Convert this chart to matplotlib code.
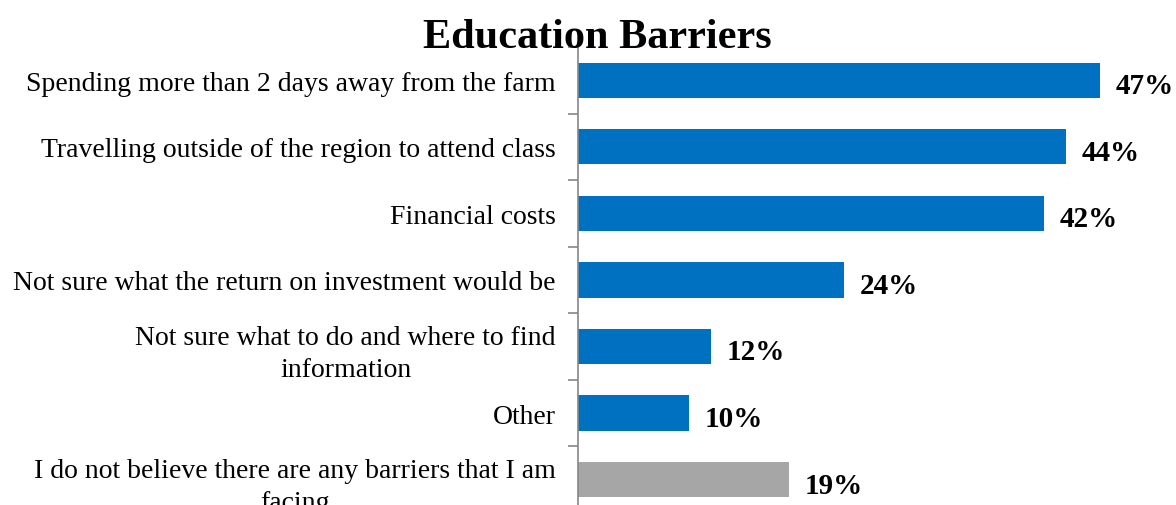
import matplotlib.pyplot as plt
import numpy as np
from matplotlib.ticker import FixedLocator

categories = [
    "Spending more than 2 days away from the farm",
    "Travelling outside of the region to attend class",
    "Financial costs",
    "Not sure what the return on investment would be",
    "Not sure what to do and where to find\ninformation",
    "Other",
    "I do not believe there are any barriers that I am\nfacing",
]
values = [47, 44, 42, 24, 12, 10, 19]
colors = ["#0070C0"] * 6 + ["#A6A6A6"]

plt.rcParams["font.family"] = ["Liberation Serif", "DejaVu Serif"]

fig = plt.figure(figsize=(11.76, 5.06), dpi=100)
ax = fig.add_axes([0.4915, -0.0158, 0.472, 0.921])

y = np.arange(len(categories))
ax.barh(y, values, height=0.53, color=colors)
ax.set_ylim(len(categories) - 0.5, -0.5)
ax.set_xlim(0, 50)

ax.set_yticks(y)
ax.set_yticklabels(categories, fontsize=20, multialignment="center", linespacing=1.38)
ax.tick_params(axis="y", which="major", length=0, pad=16)
ax.yaxis.set_minor_locator(FixedLocator(np.arange(-0.5, len(categories), 1.0)))
ax.tick_params(axis="y", which="minor", length=7, width=1.2, color="#868686", direction="out")
ax.set_xticks([])

for side in ["top", "right", "bottom"]:
    ax.spines[side].set_visible(False)
ax.spines["left"].set_color("#868686")
ax.spines["left"].set_linewidth(1.2)

for yi, v in zip(y, values):
    ax.text(v + 1.4, yi + 0.08, f"{v}%", fontsize=21, fontweight="bold",
            va="center", ha="left")

fig.text(0.508, 0.925, "Education Barriers", fontsize=30.4, fontweight="bold",
         ha="center", va="center")

fig.savefig("out.png", dpi=100)
